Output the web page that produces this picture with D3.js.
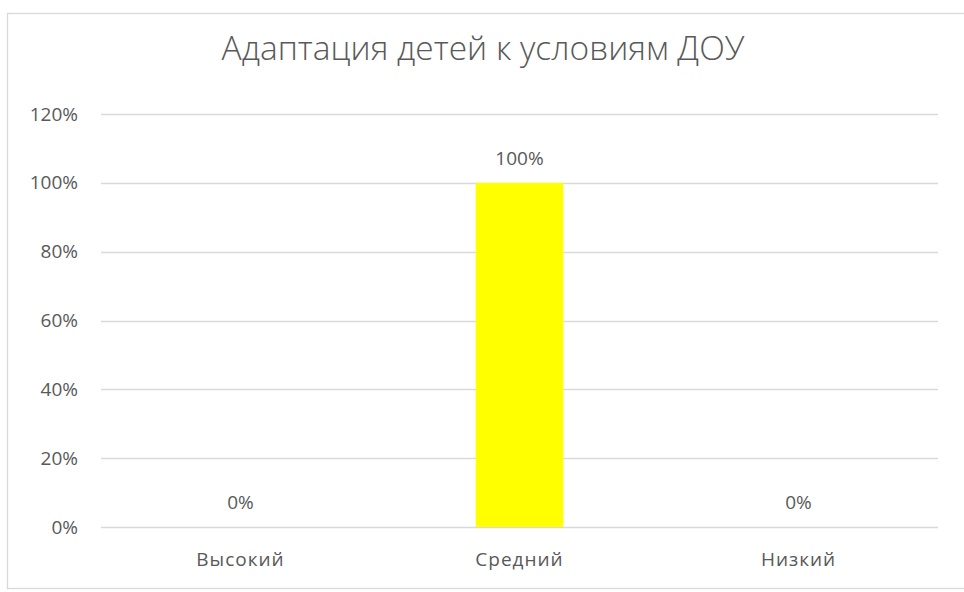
<!DOCTYPE html>
<html>
<head>
<meta charset="utf-8">
<script src="https://cdn.jsdelivr.net/npm/d3@7"></script>
<style>
  body { margin: 0; background: #fff; }
  text { font-family: "Open Sans", "Noto Sans", sans-serif; fill: #595959; }
</style>
</head>
<body>
<svg id="chart" width="964" height="592"></svg>
<script>
var title = "Адаптация детей к условиям ДОУ";
var categories = ["Высокий", "Средний", "Низкий"];
var values = [0, 1, 0];
var yTicks = [0, 0.2, 0.4, 0.6, 0.8, 1, 1.2];

var svg = d3.select('#chart');

// chart border
svg.append('rect')
  .attr('x', 7.5)
  .attr('y', 13.5)
  .attr('width', 970)
  .attr('height', 575)
  .attr('fill', '#fff')
  .attr('stroke', '#d9d9d9')
  .attr('stroke-width', 1.3);

var plotLeft = 101, plotRight = 938, plotTop = 114, plotBottom = 527;

var xScale = d3.scaleBand()
  .domain(categories)
  .range([plotLeft, plotRight])
  .paddingInner(0.686)
  .paddingOuter(0.343);

var yScale = d3.scaleLinear()
  .domain([0, 1.2])
  .range([plotBottom, plotTop]);

var fmt = d3.format('.0%');

// gridlines
svg.append('g')
  .selectAll('line')
  .data(yTicks)
  .enter()
  .append('line')
  .attr('x1', plotLeft)
  .attr('x2', plotRight)
  .attr('y1', function(d) { return Math.round(yScale(d)) + 0.5; })
  .attr('y2', function(d) { return Math.round(yScale(d)) + 0.5; })
  .attr('stroke', '#d9d9d9')
  .attr('stroke-width', 1.3);

// y axis labels
var yAxis = d3.axisLeft(yScale)
  .tickValues(yTicks)
  .tickFormat(fmt)
  .tickSize(0)
  .tickPadding(23);

var yg = svg.append('g')
  .attr('transform', 'translate(' + plotLeft + ',0)')
  .call(yAxis);
yg.select('.domain').remove();
yg.selectAll('text')
  .attr('font-size', 19)
  .style('font-family', '"Open Sans", sans-serif')
  .attr('fill', '#595959');

// bars
svg.append('g')
  .selectAll('rect')
  .data(values)
  .enter()
  .append('rect')
  .attr('x', function(d, i) { return xScale(categories[i]); })
  .attr('width', xScale.bandwidth())
  .attr('y', function(d) { return yScale(d); })
  .attr('height', function(d) { return plotBottom - yScale(d); })
  .attr('fill', '#ffff00');

// data labels
svg.append('g')
  .selectAll('text')
  .data(values)
  .enter()
  .append('text')
  .attr('x', function(d, i) { return xScale(categories[i]) + xScale.bandwidth() / 2; })
  .attr('y', function(d) { return yScale(d) - 18; })
  .attr('text-anchor', 'middle')
  .attr('font-size', 19)
  .text(function(d) { return fmt(d); });

// x axis labels
var xAxis = d3.axisBottom(xScale)
  .tickSize(0)
  .tickPadding(26);

var xg = svg.append('g')
  .attr('transform', 'translate(0,' + plotBottom + ')')
  .call(xAxis);
xg.select('.domain').remove();
xg.selectAll('text')
  .attr('font-size', 19)
  .attr('letter-spacing', 1)
  .style('font-family', '"Open Sans", sans-serif')
  .attr('fill', '#595959');

// title
svg.append('text')
  .attr('x', 483)
  .attr('y', 60)
  .attr('text-anchor', 'middle')
  .attr('font-size', 33.5)
  .attr('font-weight', 300)
  .text(title);
</script>
</body>
</html>
